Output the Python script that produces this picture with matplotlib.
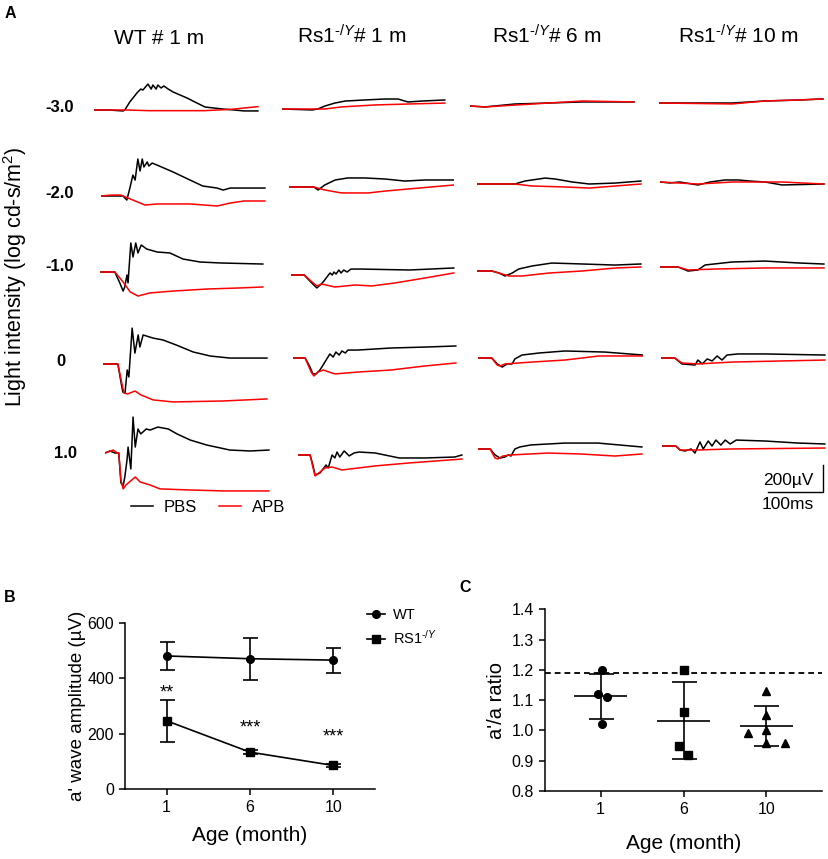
import matplotlib
matplotlib.use('Agg')
import matplotlib.pyplot as plt
import numpy as np

plt.rcParams['font.family'] = ['Liberation Sans', 'DejaVu Sans']
plt.rcParams['mathtext.fontset'] = 'custom'
plt.rcParams['mathtext.rm'] = 'Liberation Sans'
plt.rcParams['mathtext.it'] = 'Liberation Sans:italic'
plt.rcParams['mathtext.bf'] = 'Liberation Sans:bold'

# ---------------- Panel A data: ERG traces, (time ms, amplitude uV) ----------------
# rows: -3.0, -2.0, -1.0, 0, 1.0 log cd-s/m2
intensities = ['-3.0', '-2.0', '-1.0', '0', '1.0']
col_titles = ['WT # 1 m', r'Rs1$^{\text{-}/Y}$# 1 m',
              r'Rs1$^{\text{-}/Y}$# 6 m', r'Rs1$^{\text{-}/Y}$# 10 m']

wt1m_pbs = [
    [(0, 0), (27, 0), (53, -7), (56, 0), (65, 59), (78, 126), (85, 155), (89, 148), (98, 192), (104, 155),
     (107, 185), (113, 155), (116, 185), (122, 163), (127, 178), (135, 155), (144, 133), (169, 89),
     (187, 52), (202, 22), (235, 7), (255, 0), (273, -7), (298, -7)],
    [(0, 0), (40, 0), (47, -30), (53, 67), (58, 155), (62, 118), (67, 274), (71, 185), (75, 274), (78, 215),
     (84, 252), (87, 222), (93, 244), (102, 229), (131, 178), (162, 118), (185, 74), (211, 59), (222, 44),
     (235, 59), (298, 59)],
    [(0, 0), (27, 0), (36, -81), (42, -141), (45, -111), (49, -22), (51, -81), (56, 215), (60, 111),
     (65, 215), (69, 141), (75, 200), (85, 170), (104, 148), (127, 141), (151, 96), (182, 74), (218, 67),
     (296, 59)],
    [(0, 0), (27, 0), (33, -141), (36, -207), (40, -215), (44, -44), (47, -96), (53, 266), (58, 81),
     (64, 215), (67, 126), (73, 215), (91, 192), (109, 178), (133, 141), (164, 89), (195, 59), (231, 44),
     (298, 44)],
    [(0, 0), (9, 15), (18, 0), (25, 0), (29, -222), (33, -244), (36, -178), (40, -52), (42, 44), (47, -118),
     (51, 266), (55, 44), (60, 178), (65, 141), (75, 178), (82, 170), (96, 192), (115, 178), (131, 141),
     (155, 96), (185, 59), (227, 22), (264, 15), (298, 22)],
]
wt1m_apb = [
    [(0, 0), (60, 0), (100, -5), (200, -5), (250, 5), (273, 15), (298, 25)],
    [(0, 0), (18, 7), (36, 7), (40, 0), (58, -30), (80, -67), (102, -59), (162, -59), (211, -74),
     (235, -52), (260, -37), (298, -37)],
    [(0, 0), (27, 0), (42, -74), (55, -148), (69, -178), (91, -155), (133, -141), (195, -126),
     (255, -118), (296, -111)],
    [(0, 0), (27, 0), (33, -118), (38, -215), (45, -222), (49, -215), (58, -200), (69, -229), (91, -266),
     (127, -281), (218, -274), (298, -259)],
    [(0, 0), (15, 22), (22, 0), (25, 0), (29, -200), (33, -266), (38, -237), (55, -178), (64, -215),
     (82, -237), (100, -266), (155, -274), (215, -281), (298, -281)],
]
rs1m_pbs = [
    [(0, 0), (55, -7), (65, 0), (78, 22), (96, 44), (115, 59), (151, 67), (187, 74), (211, 74), (229, 52),
     (255, 59), (296, 67)],
    [(0, 0), (45, 0), (53, -22), (65, 15), (84, 52), (107, 67), (138, 67), (175, 59), (211, 44), (247, 52),
     (300, 52)],
    [(0, 0), (24, 0), (36, -52), (47, -96), (55, -67), (60, -44), (64, -22), (71, 15), (75, 0), (78, 22),
     (82, 7), (87, 37), (91, 15), (96, 37), (102, 22), (109, 44), (129, 44), (215, 37), (296, 52)],
    [(0, 0), (22, 0), (31, -67), (36, -118), (42, -118), (49, -89), (58, -30), (67, 30), (73, 7), (78, 44),
     (84, 22), (89, 52), (95, 37), (100, 59), (118, 59), (178, 74), (240, 81), (296, 89)],
    [(0, 0), (22, 0), (27, -74), (31, -148), (40, -133), (47, -96), (51, -74), (55, -96), (62, 0), (67, -22),
     (71, 22), (76, -15), (84, 30), (93, -7), (102, 15), (111, 22), (140, 15), (184, -22), (231, -22),
     (285, -15), (298, 0)],
]
rs1m_apb = [
    [(0, 0), (78, 0), (107, 15), (169, 30), (229, 37), (296, 44)],
    [(0, 0), (45, 0), (65, -22), (95, -44), (144, -44), (175, -30), (216, -15), (300, 15)],
    [(0, 0), (24, 0), (36, -44), (47, -81), (56, -67), (80, -89), (116, -74), (147, -81), (189, -59),
     (244, -22), (296, 15)],
    [(0, 0), (22, 0), (33, -104), (38, -133), (45, -104), (55, -89), (76, -118), (118, -104), (178, -89),
     (240, -59), (296, -37)],
    [(0, 0), (22, 0), (27, -89), (31, -155), (38, -133), (49, -96), (62, -89), (80, -111), (140, -81),
     (202, -59), (298, -30)],
]
rs6m_pbs = [
    [(0, 0), (27, -7), (82, 15), (142, 22), (204, 30), (298, 30)],
    [(0, 0), (69, 0), (87, 22), (124, 44), (142, 37), (173, 15), (204, 0), (251, 7), (298, 22)],
    [(0, 0), (27, 0), (40, -15), (51, -37), (64, -15), (76, 15), (100, 37), (136, 59), (191, 52),
     (251, 44), (298, 52)],
    [(0, 0), (25, 0), (35, -44), (44, -67), (53, -44), (62, -44), (67, -7), (80, 22), (111, 37),
     (158, 52), (231, 44), (300, 22)],
    [(0, 0), (22, 0), (31, -44), (40, -67), (49, -59), (55, -44), (60, -52), (67, 0), (76, 15), (96, 30),
     (158, 44), (218, 44), (298, 15)],
]
rs6m_apb = [
    [(0, 0), (27, -7), (82, 7), (142, 22), (204, 37), (298, 30)],
    [(0, 0), (69, 0), (100, -15), (160, -22), (204, -30), (251, -15), (298, 0)],
    [(0, 0), (27, 0), (40, -15), (58, -37), (82, -37), (131, -15), (191, 0), (251, 22), (298, 30)],
    [(0, 0), (25, 0), (35, -52), (40, -59), (49, -44), (98, -30), (158, -15), (220, 15), (300, 15)],
    [(0, 0), (22, 0), (31, -67), (36, -74), (45, -52), (60, -44), (127, -30), (187, -37), (249, -52),
     (298, -37)],
]
rs10m_pbs = [
    [(0, 0), (133, 0), (193, 15), (253, 22), (298, 30)],
    [(0, 0), (18, -7), (36, 0), (69, -22), (91, 0), (118, 15), (142, 15), (164, 7), (191, 0), (222, -22),
     (298, -15)],
    [(0, 0), (33, 0), (51, -30), (69, -22), (82, 15), (131, 37), (191, 44), (251, 30), (298, 22)],
    [(0, 0), (25, 0), (38, -44), (62, -52), (67, -15), (75, -44), (84, -7), (93, -22), (102, 15),
     (111, -15), (120, 22), (140, 30), (189, 30), (298, 22)],
    [(0, 0), (25, 0), (33, -30), (42, -37), (53, -22), (60, -52), (69, 30), (75, -22), (84, 37), (91, 0),
     (98, 44), (107, 7), (115, 44), (124, 15), (135, 44), (187, 37), (247, 22), (296, 15)],
]
rs10m_apb = [
    [(0, 0), (133, -7), (193, 15), (253, 22), (298, 30)],
    [(0, 0), (69, -15), (131, 0), (222, 0), (298, -15)],
    [(0, 0), (33, 0), (51, -22), (100, -15), (191, -7), (298, -7)],
    [(0, 0), (25, 0), (38, -37), (67, -44), (129, -30), (298, -15)],
    [(0, 0), (25, 0), (33, -30), (60, -30), (125, -22), (296, -15)],
]
scale_uv = 200
scale_ms = 100

# ---------------- Panel B data ----------------
ages = ['1', '6', '10']
wt_amp = [480, 470, 465]
wt_err = [50, 75, 45]
rs1_amp = [246, 133, 85]
rs1_err = [76, 8, 5]
sig_marks = ['**', '***', '***']

# ---------------- Panel C data ----------------
ratio_1m = [1.20, 1.12, 1.11, 1.02]
ratio_6m = [1.20, 1.06, 0.95, 0.92]
ratio_10m = [1.13, 1.05, 1.00, 0.99, 0.96, 0.96]
ratio_ref = 1.19

# ---------------- layout helpers (pixels of the 829x859 image) ----------------
W, H = 829, 859


def fx(x):
    return x / W


def fy(y):
    return 1 - y / H


fig = plt.figure(figsize=(W / 100, H / 100), dpi=100)

# ---------------- Panel A ----------------
pbs = [wt1m_pbs, rs1m_pbs, rs6m_pbs, rs10m_pbs]
apb = [wt1m_apb, rs1m_apb, rs6m_apb, rs10m_apb]
col_x0 = [[94, 101, 100, 103, 105], [282, 289, 291, 293, 298],
          [470, 477, 477, 478, 478], [659, 660, 660, 661, 662]]
row_base = [[110, 196, 272, 364, 453], [109, 187, 275, 358, 455],
            [106, 184, 271, 358, 449], [103, 182, 267, 358, 446]]
PX_MS = 0.55
PX_UV = 0.135
T_SPAN = 300
V_SPAN = 400

for c in range(4):
    for r in range(5):
        x0 = col_x0[c][r]
        yb = row_base[c][r]
        ax = fig.add_axes([fx(x0), fy(yb + V_SPAN * PX_UV),
                           T_SPAN * PX_MS / W, 2 * V_SPAN * PX_UV / H])
        ax.set_xlim(0, T_SPAN)
        ax.set_ylim(-V_SPAN, V_SPAN)
        ax.axis('off')
        ax.patch.set_alpha(0)
        t, v = zip(*pbs[c][r])
        l_pbs, = ax.plot(t, v, color='black', lw=1.1, label='PBS')
        t, v = zip(*apb[c][r])
        l_apb, = ax.plot(t, v, color='#ff0000', lw=1.1, label='APB')
        if c == 0 and r == 0:
            legend_handles = [l_pbs, l_apb]
        if c == 3 and r == 4:
            # scale bar
            bx = (823 - x0) / PX_MS
            by = -(492 - yb) / PX_UV
            ax.plot([bx - scale_ms, bx, bx], [by, by, by + scale_uv],
                    color='black', lw=1.0, clip_on=False)

fig.text(fx(788), fy(480), '200µV', fontsize=12.5, ha='center', va='center')
fig.text(fx(788), fy(505), '100ms', fontsize=12.5, ha='center', va='center')

for c, title in enumerate(col_titles):
    fig.text(fx([159, 352, 547, 739][c]), fy(44), title, fontsize=15,
             ha='center', va='baseline')

for r, lab in enumerate(intensities):
    fig.text(fx([60, 60, 60, 61, 66][r]), fy([108, 193, 267, 361, 453][r]), lab,
             fontsize=12, fontweight='bold', ha='center', va='center')

fig.text(fx(15), fy(277), r'Light intensity (log cd-s/m$^{2}$)', fontsize=15.5,
         rotation=90, ha='center', va='center')

fig.legend(handles=legend_handles, labels=['PBS', 'APB'], loc='center',
           bbox_to_anchor=(fx(208), fy(507)), ncol=2, frameon=False, fontsize=12,
           handlelength=1.35, handletextpad=0.65, columnspacing=1.3,
           borderpad=0, borderaxespad=0)

fig.text(fx(10), fy(13), 'A', fontsize=11.5, fontweight='bold', ha='center', va='center')
fig.text(fx(10), fy(597), 'B', fontsize=11.5, fontweight='bold', ha='center', va='center')
fig.text(fx(465), fy(588), 'C', fontsize=11.5, fontweight='bold', ha='center', va='center')

# ---------------- Panel B ----------------
axb = fig.add_axes([fx(125), fy(789), (375 - 125) / W, (789 - 622.7) / H])
xb = np.arange(len(ages))
lw_wt, = axb.plot(xb, wt_amp, '-o', color='black', lw=1.2, ms=5.5, label='WT')
axb.errorbar(xb, wt_amp, yerr=wt_err, fmt='none', ecolor='black', elinewidth=1.2,
             capsize=5.4, capthick=1.2)
lw_rs, = axb.plot(xb, rs1_amp, '-s', color='black', lw=1.2, ms=5.5,
                  label=r'RS1$^{\text{-}/Y}$')
axb.errorbar(xb, rs1_amp, yerr=rs1_err, fmt='none', ecolor='black', elinewidth=1.2,
             capsize=5.4, capthick=1.2)
for i, s in enumerate(sig_marks):
    axb.text(xb[i], [331, 204, 172][i], s, fontsize=13, ha='center', va='baseline')
axb.set_xlim(-0.5, 2.5)
axb.set_ylim(0, 600)
axb.set_yticks([0, 200, 400, 600])
axb.set_xticks(xb)
axb.set_xticklabels(ages)
axb.spines['top'].set_visible(False)
axb.spines['right'].set_visible(False)
for s in ['left', 'bottom']:
    axb.spines[s].set_linewidth(1.1)
axb.tick_params(width=1.1, length=4.5, labelsize=11.5)
axb.set_xlabel('Age (month)', fontsize=15, labelpad=8)
axb.set_ylabel("a' wave amplitude (µV)", fontsize=13.5, labelpad=1)
axb.legend(handles=[lw_wt, lw_rs], loc='center left',
           bbox_to_anchor=(fx(367), fy(627.5)), bbox_transform=fig.transFigure,
           frameon=False, fontsize=10.5, handlelength=1.25, handletextpad=0.55,
           labelspacing=0.45, borderpad=0, borderaxespad=0)

# ---------------- Panel C ----------------
axc = fig.add_axes([fx(545), fy(791), (822 - 545) / W, (791 - 609.3) / H])
groups = [ratio_1m, ratio_6m, ratio_10m]
markers = ['o', 's', '^']
offsets = [[0.02, -0.03, 0.08, 0.02], [0.01, 0.01, -0.05, 0.05],
           [0, 0, 0, -0.22, 0, 0.22]]
axc.axhline(ratio_ref, color='black', lw=1.3, ls=(0, (3.2, 2.2)))
for i, g in enumerate(groups):
    g = np.array(g)
    axc.plot(i + np.array(offsets[i]), g, markers[i], color='black', ms=5.5, ls='none')
    m = g.mean()
    sd = g.std(ddof=1)
    axc.hlines(m, i - 0.32, i + 0.32, color='black', lw=1.2)
    axc.errorbar(i, m, yerr=sd, fmt='none', ecolor='black', elinewidth=1.2,
                 capsize=9, capthick=1.2)
axc.set_xlim(-0.67, 2.67)
axc.set_ylim(0.8, 1.4)
axc.set_yticks(np.arange(0.8, 1.41, 0.1))
axc.set_yticklabels([f'{v:.1f}' for v in np.arange(0.8, 1.41, 0.1)])
axc.set_xticks(range(3))
axc.set_xticklabels(ages)
axc.spines['top'].set_visible(False)
axc.spines['right'].set_visible(False)
for s in ['left', 'bottom']:
    axc.spines[s].set_linewidth(1.1)
axc.tick_params(width=1.1, length=4.5, labelsize=11.5)
axc.set_xlabel('Age (month)', fontsize=15, labelpad=12)
axc.set_ylabel("a'/a ratio", fontsize=14.5, labelpad=4)

fig.savefig('out.png', dpi=100)
